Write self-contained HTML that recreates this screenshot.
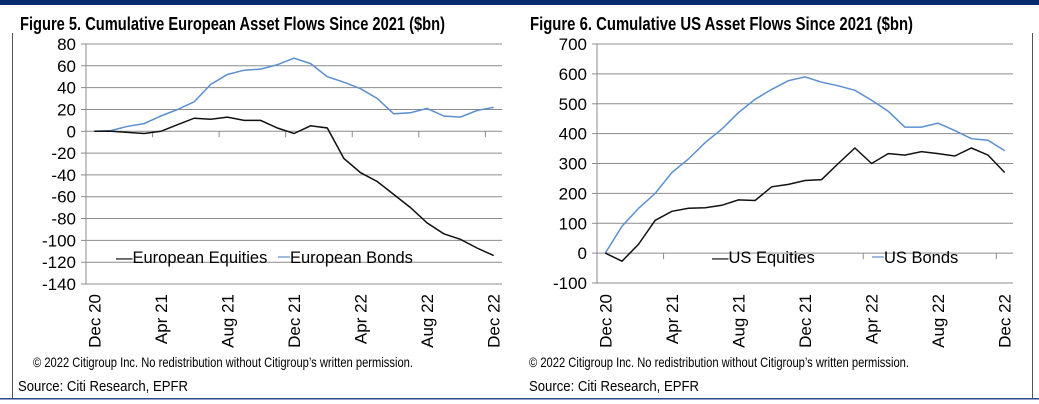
<!DOCTYPE html>
<html><head><meta charset="utf-8"><style>
html,body{margin:0;padding:0;background:#fff;width:1039px;height:404px;overflow:hidden}
svg{display:block;font-family:"Liberation Sans",Arial,sans-serif}
</style></head><body>
<svg id="s" width="1039" height="404" viewBox="0 0 1039 404">
<rect x="0" y="0" width="1039" height="5" fill="#0a2a6e"/>
<rect x="0" y="398" width="1039" height="1.5" fill="#2a4a8a"/>
<line x1="12.5" y1="33" x2="12.5" y2="398" stroke="#555" stroke-width="1"/>
<line x1="1032.5" y1="33" x2="1032.5" y2="398" stroke="#555" stroke-width="1"/>
<text x="20" y="30" font-size="18" font-weight="bold" textLength="425" lengthAdjust="spacingAndGlyphs">Figure 5. Cumulative European Asset Flows Since 2021 ($bn)</text>
<text x="530" y="30" font-size="18" font-weight="bold" textLength="383" lengthAdjust="spacingAndGlyphs">Figure 6. Cumulative US Asset Flows Since 2021 ($bn)</text>
<text x="33" y="367" font-size="14" textLength="380" lengthAdjust="spacingAndGlyphs">© 2022 Citigroup Inc. No redistribution without Citigroup’s written permission.</text>
<text x="18" y="391" font-size="14.5" textLength="170" lengthAdjust="spacingAndGlyphs">Source: Citi Research, EPFR</text>
<text x="529" y="367" font-size="14" textLength="380" lengthAdjust="spacingAndGlyphs">© 2022 Citigroup Inc. No redistribution without Citigroup’s written permission.</text>
<text x="529" y="391" font-size="14.5" textLength="170" lengthAdjust="spacingAndGlyphs">Source: Citi Research, EPFR</text>
<g id="g"></g>
</svg>
<script>
var g=document.getElementById('g'),h='';
function chart(L,R,T,B,vmin,vmax,step,zero,eq,bo,n1,n2,lx1,lx2){
 var sc=(B-T)/(vmax-vmin);function Y(v){return T+(vmax-v)*sc;}
 for(var v=vmin;v<=vmax;v+=step){var y=Y(v).toFixed(1);
  h+='<line x1="'+L+'" y1="'+y+'" x2="'+R+'" y2="'+y+'" stroke="#8c8c8c" stroke-width="1"/>';
  h+='<line x1="'+(L-5)+'" y1="'+y+'" x2="'+L+'" y2="'+y+'" stroke="#8c8c8c"/>';
  h+='<text x="'+(L-10)+'" y="'+(Y(v)+6)+'" font-size="17" text-anchor="end">'+v+'</text>';}
 h+='<line x1="'+L+'" y1="'+T+'" x2="'+L+'" y2="'+B+'" stroke="#8c8c8c"/>';
 var w=(R-L)/25,y0=Y(0);
 for(var i=0;i<=25;i+=4){var x=L+i*w;h+='<line x1="'+x+'" y1="'+y0+'" x2="'+x+'" y2="'+(y0+6)+'" stroke="#8c8c8c"/>';}
 var labs=['Dec 20','Apr 21','Aug 21','Dec 21','Apr 22','Aug 22','Dec 22'];
 for(var k=0;k<7;k++){var x=L+w*(k*4+0.5)+6;h+='<text transform="translate('+x+',294) rotate(-90)" font-size="17" text-anchor="end">'+labs[k]+'</text>';}
 function pl(d,c){var p=d.map(function(v,i){return (L+w*(i+0.5)).toFixed(1)+','+Y(v).toFixed(1)}).join(' ');h+='<polyline points="'+p+'" fill="none" stroke="'+c+'" stroke-width="1.5"/>';}
 pl(bo,'#5b8fd0');pl(eq,'#111');
 h+='<text x="'+lx1+'" y="263" font-size="16.5">—'+n1+'</text>';
 h+='<line x1="'+lx2+'" y1="257" x2="'+(lx2+12)+'" y2="257" stroke="#7fa4d6" stroke-width="1.5"/>';
 h+='<text x="'+(lx2+12)+'" y="263" font-size="16.5">'+n2+'</text>';
}
chart(86,502,44,284,-140,80,20,0,
[0,0,-1,-2,0,6,12,11,13,10,10,3,-2,5,3,-25,-38,-46,-58,-70,-84,-94,-99,-107,-114],
[0,0.6,4.6,7,14,20,27,43,52,56,57,61,67,62,50,45,39,30,16,17,21,14,13,19,22],
'European Equities','European Bonds',116,278);
chart(597,1013,44,283,-100,700,100,0,
[0,-27,30,110,140,150,152,160,178,176,222,230,243,246,300,352,300,333,328,340,333,325,352,328,270],
[0,90,150,200,270,315,370,415,470,515,548,577,590,572,560,545,512,475,422,422,435,410,383,378,343],
'US Equities','US Bonds',712,872);
g.innerHTML=h;
</script>
</body></html>
